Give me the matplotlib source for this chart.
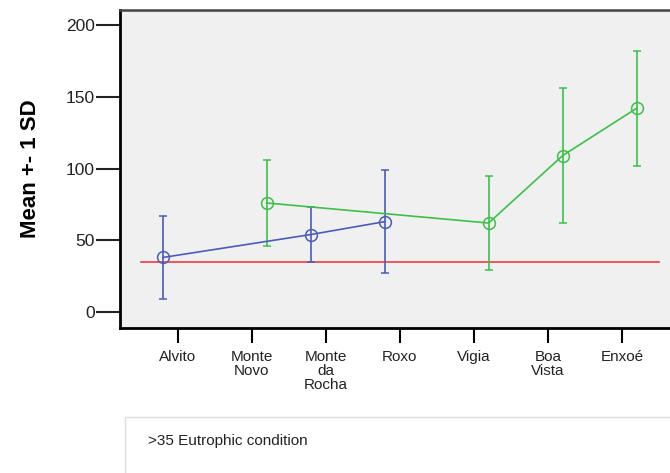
"""Mean +- 1 SD per reservoir, with the >35 eutrophic threshold."""

import matplotlib
matplotlib.use("Agg")
import matplotlib.pyplot as plt
import matplotlib.patches as mpatches

plt.rcParams.update({
    "font.family": ["Liberation Sans", "DejaVu Sans"],
    "font.size": 10,
})

# Data
sites = ["Alvito", "Monte\nNovo", "Monte\nda\nRocha", "Roxo", "Vigia", "Boa\nVista", "Enxoé"]

blue_idx = [0, 2, 3]
blue_mean = [38, 54, 63]
blue_sd = [29, 19, 36]

green_idx = [1, 4, 5, 6]
green_mean = [76, 62, 109, 142]
green_sd = [30, 33, 47, 40]

threshold = 35
threshold_label = ">35 Eutrophic condition"

BLUE = "#4a5cb8"
GREEN = "#3cc04a"
RED = "#f03c3c"

fig = plt.figure(figsize=(6.7, 4.73), dpi=100)
ax = fig.add_axes([0.179, 0.307, 0.821, 0.672])
ax.set_facecolor("#f0f0f0")

off = 0.2
bx = [i - off for i in blue_idx]
gx = [i + off for i in green_idx]

ax.plot([-0.5, len(sites) - 0.5], [threshold, threshold], color=RED, lw=1.2, zorder=2)

ax.errorbar(bx, blue_mean, yerr=blue_sd, color=BLUE, lw=1.2, capsize=3, capthick=1.2,
            marker="o", ms=8.5, mfc="none", mec=BLUE, mew=1.1, zorder=3)
ax.errorbar(gx, green_mean, yerr=green_sd, color=GREEN, lw=1.2, capsize=3, capthick=1.2,
            marker="o", ms=8.5, mfc="none", mec=GREEN, mew=1.1, zorder=3)

ax.set_xlim(-0.78, 6.65)
ax.set_ylim(-11, 210.5)
ax.set_yticks([0, 50, 100, 150, 200])
ax.set_xticks(range(len(sites)))
ax.set_xticklabels(sites, fontsize=11, linespacing=1.0, color="#222222")
ax.tick_params(axis="y", length=17, width=1.5, labelsize=12.5, pad=1, colors="#222222")
ax.tick_params(axis="x", length=11, width=1.5, pad=5)
ax.set_ylabel("Mean +- 1 SD", fontsize=16, fontweight="bold", labelpad=18)

ax.spines["right"].set_visible(False)
ax.spines["left"].set_linewidth(2)
ax.spines["bottom"].set_linewidth(2)
ax.spines["top"].set_linewidth(1.8)
ax.spines["top"].set_color("#444444")

# Legend box under the plot
box = mpatches.Rectangle((0.187, -0.05), 0.85, 0.168, transform=fig.transFigure,
                         facecolor="white", edgecolor="#dddddd", lw=1)
fig.patches.append(box)
fig.text(0.221, 0.068, threshold_label, fontsize=11, va="center", color="#222222")

fig.savefig("out.png", dpi=100)
